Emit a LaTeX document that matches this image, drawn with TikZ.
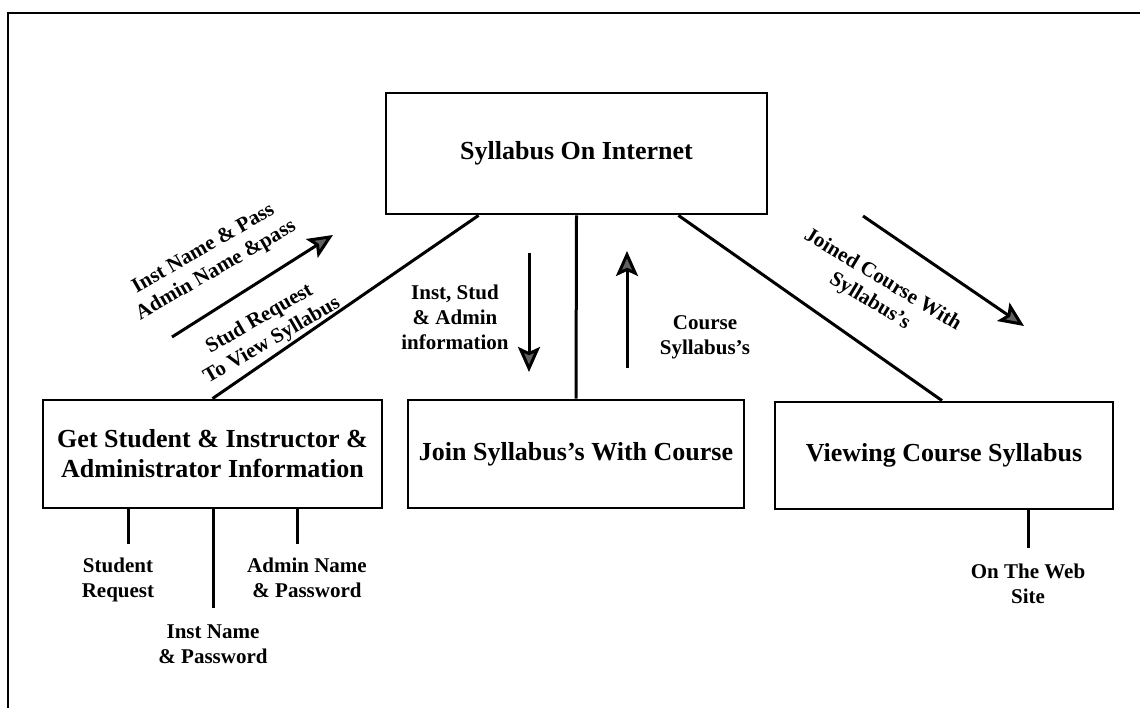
\documentclass[tikz,border=0pt]{standalone}
\usepackage{fontspec}
\setmainfont{Liberation Serif}
\usetikzlibrary{arrows.meta}
\begin{document}
\begin{tikzpicture}[x=1pt,y=-1pt,
  box/.style={draw=black, line width=2.8pt, inner sep=0pt, font=\fontsize{26}{30}\selectfont\bfseries, align=center},
  lbl/.style={font=\fontsize{21}{25}\selectfont\bfseries, align=center, inner sep=0pt},
  conn/.style={line width=3pt, draw=black},
  flow/.style={line width=3pt, draw=black, -{Stealth[length=25pt,width=22pt,inset=5pt,fill=black!62]}}
]
\useasboundingbox (0,0) rectangle (1140,708);
\fill[white] (0,0) rectangle (1140,708);
% outer frame
\draw[line width=2.6pt] (8,708) -- (8,13) -- (1140,13);

% boxes
\node[box, minimum width=381pt, minimum height=121pt] (top) at (576.5,153.5) {Syllabus On Internet};
\node[box, minimum width=339pt, minimum height=108pt] (left) at (212.5,454) {Get Student \& Instructor \&\\Administrator Information};
\node[box, minimum width=336pt, minimum height=108pt] (mid) at (576,454) {Join Syllabus's With Course};
\node[box, minimum width=338pt, minimum height=107pt] (right) at (944,455.5) {Viewing Course Syllabus};

% connectors between boxes
\draw[conn] (top.south) -- (mid.north);
\draw[conn] ([xshift=94pt]top.south west) -- (left.north);
\draw[conn] ([xshift=-90pt]top.south east) -- ([xshift=-2pt]right.north);

% stubs below boxes
\coordinate (s1) at (128,544);
\coordinate (s2) at (213,608);
\coordinate (s3) at (297,544);
\coordinate (s4) at (1028,548);
\draw[conn] (s1 |- left.south) -- (s1);
\draw[conn] (s2 |- left.south) -- (s2);
\draw[conn] (s3 |- left.south) -- (s3);
\draw[conn] (s4 |- right.south) -- (s4);

\node[lbl] (lstud) at (118,580) {Student\\Request};
\node[lbl] (linst) at (213,644) {Inst Name\\\& Password};
\node[lbl] (ladm) at (307,578) {Admin Name\\\& Password};
\node[lbl] (lweb) at (1028,584) {On The Web\\Site};

% data flow arrows
\coordinate (a1s) at (172,337);
\coordinate (a1e) at (333,235);
\draw[flow] (a1s) -- (a1e);
\coordinate (a2s) at (529,253);
\coordinate (a2e) at (529,372);
\draw[flow] (a2s) -- (a2e);
\coordinate (a3s) at (627,368);
\coordinate (a3e) at (627,251);
\draw[flow] (a3s) -- (a3e);
\coordinate (a4s) at (863,216);
\coordinate (a4e) at (1024,326);
\draw[flow] (a4s) -- (a4e);

% flow labels
\node[lbl, rotate=30] (l1) at (210,260) {Inst Name \& Pass\\Admin Name \&pass};
\node[lbl, rotate=30] (l2) at (266,330) {Stud Request\\To View Syllabus};
\node[lbl] (l3) at (455,317) {Inst, Stud\\\& Admin\\information};
\node[lbl] (l4) at (705,337) {Course\\Syllabus's};
\node[lbl, rotate=-31] (l5) at (876,291) {Joined Course With\\Syllabus's};
\end{tikzpicture}
\end{document}
